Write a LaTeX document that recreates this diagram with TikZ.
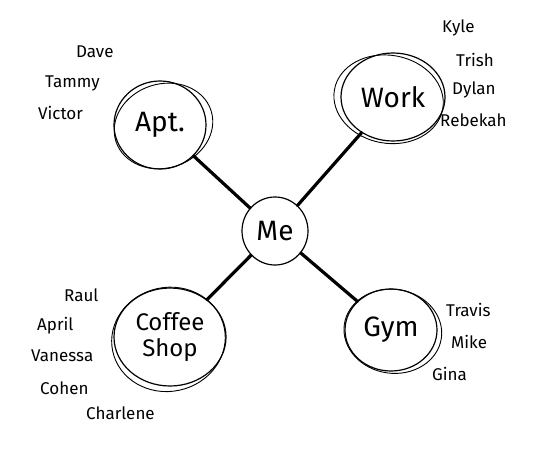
\documentclass[tikz,border=0pt]{standalone}
\usepackage{fontspec}
\setmainfont{Fira Sans}
\usetikzlibrary{shapes.geometric}
\tikzset{
  place/.style={draw, ellipse, line width=1.2pt, inner sep=0pt},
  extra/.style={line width=0.9pt},
  link/.style={line width=3.2pt, line cap=round},
  who/.style={font=\fontsize{17}{17}\selectfont, anchor=west, inner sep=0pt},
  big/.style={font=\fontsize{28}{28}\selectfont}
}
\begin{document}
\begin{tikzpicture}[x=1pt,y=-1pt]
\useasboundingbox (0,0) rectangle (540,455);
% places
\node[place, big, minimum width=66pt, minimum height=68pt] (me) at (275,231) {Me};
\node[place, big, minimum width=92pt, minimum height=88pt] (apt) at (160,125) {Apt.};
\node[place, big, minimum width=104pt, minimum height=88pt] (work) at (393,97) {Work};
\node[place, big, minimum width=112pt, minimum height=98pt, align=center, font=\fontsize{24}{26}\selectfont] (coffee) at (170,337) {Coffee\\Shop};
\node[place, big, minimum width=92pt, minimum height=82pt] (gym) at (391,330) {Gym};
% second sketch strokes
\draw[extra, rotate around={18:(apt.center)}] (apt.center) ++(3,2) ellipse [x radius=50, y radius=42];
\draw[extra, rotate around={-10:(work.center)}] (work.center) ++(-4,3) ellipse [x radius=55, y radius=44];
\draw[extra, rotate around={12:(coffee.center)}] (coffee.center) ++(-2,2) ellipse [x radius=57, y radius=52];
\draw[extra, rotate around={-8:(gym.center)}] (gym.center) ++(2,1) ellipse [x radius=49, y radius=42];
% links
\draw[link] (me) -- (apt);
\draw[link] (me) -- (work);
\draw[link] (me) -- (coffee);
\draw[link] (me) -- (gym);
% people
\node[who] (dave) at (76,52) {Dave};
\node[who] (tammy) at (45,83) {Tammy};
\node[who] (victor) at (38,113) {Victor};
\node[who] (kyle) at (442,28) {Kyle};
\node[who] (trish) at (456,60) {Trish};
\node[who] (dylan) at (452,90) {Dylan};
\node[who] (rebekah) at (440,120) {Rebekah};
\node[who] (raul) at (64,295) {Raul};
\node[who] (april) at (37,326) {April};
\node[who] (vanessa) at (31,356) {Vanessa};
\node[who] (cohen) at (40,388) {Cohen};
\node[who] (charlene) at (86,413) {Charlene};
\node[who] (travis) at (446,310) {Travis};
\node[who] (mike) at (451,342) {Mike};
\node[who] (gina) at (432,374) {Gina};
\end{tikzpicture}
\end{document}
